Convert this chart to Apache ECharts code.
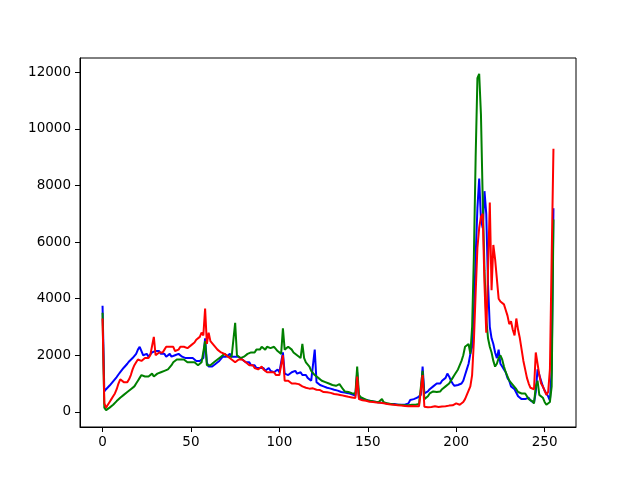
<!DOCTYPE html>
<html>
<head>
<meta charset="utf-8">
<script src="https://cdn.jsdelivr.net/npm/echarts@6/dist/echarts.min.js"></script>
<style>html,body{margin:0;padding:0;background:#fff}#c{width:640px;height:480px}</style>
</head>
<body>
<div id="c"></div>
<script>
var xTicks = [0, 50, 100, 150, 200, 250];
var yTicks = [0, 2000, 4000, 6000, 8000, 10000, 12000];

var blue = [
3750,720,800,860,930,1000,1080,1150,1230,1320,1400,1480,1560,1620,1700,1780,
1850,1900,1950,2050,2200,2300,2150,2000,1950,2050,1950,2000,2100,2050,2150,2100,
2150,2050,2000,2050,1950,2000,2050,1950,1950,2000,1950,2050,2000,1950,2000,1900,
1950,1900,1850,1900,1850,1800,1850,1800,1850,1900,2600,1750,1600,1550,1600,1650,
1700,1750,1800,1850,1950,2000,1950,2000,2050,1950,2000,1950,1900,1950,1900,1850,
1800,1750,1700,1750,1650,1600,1650,1550,1600,1550,1500,1550,1450,1500,1550,1450,
1500,1400,1450,1500,1400,1450,2100,1350,1400,1300,1350,1400,1350,1450,1350,1300,
1400,1300,1250,1300,1200,1150,1100,1050,2200,1050,1000,950,1000,900,880,850,
870,820,800,780,760,750,720,700,720,680,650,660,640,620,600,580,
1400,480,460,440,430,420,400,390,380,370,360,350,340,330,360,320,
300,290,290,280,270,280,260,250,260,250,240,250,260,300,420,380,
450,480,500,550,600,1600,650,700,720,800,850,900,950,1000,1050,1000,
1100,1150,1200,1350,1250,1100,1000,920,900,950,950,1000,1100,1300,1500,1700,
2050,2300,3500,5500,7200,8250,6800,6500,7800,7000,4500,3000,2600,2400,2100,1900,
2200,1700,1600,1500,1400,1200,1100,900,850,800,750,550,600,450,420,450,
400,500,400,380,320,700,1500,1300,1100,900,750,650,550,400,1500,7200
];

var green = [
3500,150,60,100,150,200,250,300,380,450,500,520,600,650,700,750,
800,850,900,1000,1100,1200,1300,1350,1250,1300,1250,1300,1350,1250,1300,1350,
1300,1400,1350,1450,1400,1500,1550,1650,1750,1800,1850,1800,1850,1800,1850,1800,
1750,1800,1750,1700,1750,1700,1650,1700,1750,1800,2500,1650,1700,1650,1700,1750,
1800,1850,1900,1950,2000,2050,2000,1950,2000,1950,1900,3150,2000,1950,1900,1950,
1950,2000,2050,2000,2100,2150,2100,2200,2250,2200,2300,2250,2200,2300,2350,2250,
2200,2300,2250,2150,2100,2050,2950,2200,2250,2300,2250,2200,2100,2050,2000,1950,
1900,2400,1900,1750,1700,1600,1450,1400,1300,1250,1200,1150,1100,1100,1050,1000,
1000,950,950,900,920,950,980,1020,800,720,700,700,680,660,650,640,
1600,600,520,480,460,430,400,400,380,370,360,360,340,350,450,340,
320,300,290,280,270,260,250,250,240,240,230,230,240,230,260,250,
270,250,260,280,300,1450,450,500,550,650,700,720,750,700,680,720,
800,850,900,950,1000,1050,1200,1300,1400,1500,1650,1800,2000,2300,2250,2400,
2050,3000,5500,9000,11800,11950,10500,7500,5000,3300,2600,2300,2100,1800,1600,1700,
1900,2000,1850,1600,1400,1250,1100,1050,950,900,800,700,750,650,600,650,
550,450,420,380,300,900,1100,600,550,500,350,250,250,350,900,6800
];

var red = [
3300,300,150,250,350,450,550,650,800,1000,1150,1100,1050,1000,1050,1150,
1300,1500,1650,1750,1850,1900,1800,1850,1900,1950,1900,2000,2050,2650,2000,2050,
2100,2150,2100,2200,2300,2250,2300,2350,2300,2150,2100,2200,2300,2350,2300,2350,
2250,2300,2350,2400,2450,2550,2600,2650,2800,2700,3650,2400,2800,2500,2450,2350,
2300,2200,2150,2100,2100,2050,2000,1950,1900,1850,1800,1750,1800,1850,1900,1850,
1800,1750,1700,1650,1600,1650,1550,1600,1500,1550,1600,1500,1450,1400,1450,1400,
1350,1400,1300,1350,1300,1250,2000,1100,1050,1100,1050,1000,1050,1000,950,980,
920,900,880,850,870,820,800,830,800,780,750,770,730,700,720,690,
700,670,650,630,640,610,600,590,570,560,550,530,520,510,500,490,
1250,450,430,410,400,390,370,360,350,350,340,330,320,320,310,300,
290,280,270,260,250,250,240,230,230,220,220,210,210,200,200,210,
200,200,190,200,210,1300,180,150,160,150,170,160,200,180,170,200,
190,210,200,250,220,200,230,250,300,260,250,300,350,450,600,750,
900,1300,2500,4200,5800,6500,6900,7000,4500,2800,5000,7400,4300,5900,5400,4700,
4000,3900,3850,3800,3600,3400,3100,3200,2900,2700,3300,2900,2600,2200,1800,1500,
1200,1000,850,800,800,2100,1700,1300,1000,900,750,600,700,1500,5500,9300
];

function pairs(arr) { return arr.map(function (v, i) { return [i, v]; }); }

var chart = echarts.init(document.getElementById('c'), null, { renderer: 'canvas' });
var font = 'DejaVu Sans';
chart.setOption({
  animation: false,
  backgroundColor: '#ffffff',
  grid: { left: 80, right: 64, top: 58, bottom: 53, show: true, borderColor: '#000', borderWidth: 1, backgroundColor: 'transparent' },
  xAxis: {
    type: 'value', min: -12.75, max: 267.75,
    axisLine: { show: true, onZero: false, lineStyle: { color: '#000', width: 1 } },
    axisTick: { show: true, inside: false, length: 5, customValues: xTicks, lineStyle: { color: '#000', width: 1 } },
    axisLabel: { show: true, customValues: xTicks, margin: 8, color: '#000', fontFamily: font, fontSize: 13.5,
      formatter: function (v) { return String(v); } },
    splitLine: { show: false }
  },
  yAxis: {
    type: 'value', min: -536, max: 12509,
    axisLine: { show: true, onZero: false, lineStyle: { color: '#000', width: 1 } },
    axisTick: { show: true, inside: false, length: 5, customValues: yTicks, lineStyle: { color: '#000', width: 1 } },
    axisLabel: { show: true, customValues: yTicks, margin: 9, color: '#000', fontFamily: font, fontSize: 13.5,
      formatter: function (v) { return String(v); } },
    splitLine: { show: false }
  },
  series: [
    { type: 'line', data: pairs(blue), showSymbol: false, lineStyle: { color: '#0000ff', width: 2 }, itemStyle: { color: '#0000ff' } },
    { type: 'line', data: pairs(green), showSymbol: false, lineStyle: { color: '#008000', width: 2 }, itemStyle: { color: '#008000' } },
    { type: 'line', data: pairs(red), showSymbol: false, lineStyle: { color: '#ff0000', width: 2 }, itemStyle: { color: '#ff0000' } }
  ]
});
</script>
</body>
</html>
